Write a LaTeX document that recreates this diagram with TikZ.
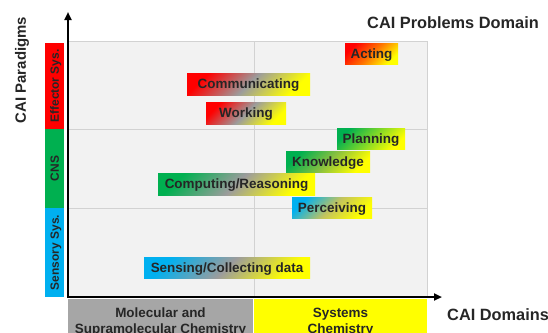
\documentclass[tikz,border=0pt]{standalone}
\usepackage{fontspec}
\setmainfont{Liberation Sans}
\usetikzlibrary{arrows.meta}
\definecolor{cred}{HTML}{FF0000}
\definecolor{cgreen}{HTML}{00B050}
\definecolor{cblue}{HTML}{00B0F0}
\definecolor{cyellow}{HTML}{FFFF00}
\definecolor{cgray}{HTML}{9C9C9C}
\definecolor{dgray}{HTML}{A6A6A6}
\definecolor{plotbg}{HTML}{F2F2F2}
\definecolor{gridc}{HTML}{D2D2D2}
\definecolor{txt}{HTML}{262626}
\tikzset{
  tag/.style 2 args={shade, top color=#1, bottom color=cyellow, middle color=#2,
    shading angle=45, minimum height=21bp, inner sep=0pt,
    text height=9.7bp, text depth=0bp,
    font=\fontsize{13.5}{16}\selectfont\bfseries, text=txt},
  sidebar/.style={fill=#1, rotate=90, minimum height=19bp, inner sep=0pt,
    text height=8.6bp, text depth=0bp,
    font=\fontsize{12}{14}\selectfont\bfseries, text=txt},
  title/.style={inner sep=0pt, font=\fontsize{16.4}{19}\selectfont\bfseries, text=txt},
  domtext/.style={inner sep=0pt, align=center, font=\fontsize{13.5}{16}\selectfont\bfseries, text=txt},
  axisline/.style={line width=2bp, -{Triangle[length=8bp,width=7bp]}},
}
\begin{document}
\begin{tikzpicture}[x=1bp,y=-1bp]
\clip (0,0) rectangle (548,332);
\fill[white] (0,0) rectangle (548,332);
% plot area
\fill[plotbg] (68,41) rectangle (427,297);
\draw[gridc, line width=0.8bp] (68,41) rectangle (427,297);
\draw[gridc, line width=0.8bp] (68,129) -- (427,129);
\draw[gridc, line width=0.8bp] (68,208) -- (427,208);
\draw[gridc, line width=0.8bp] (254,41) -- (254,297);
% side bars
\node[sidebar=cred, minimum width=86bp] (eff) at (54.5,86) {Effector Sys.};
\node[sidebar=cgreen, minimum width=79bp] (cns) at (54.5,168.5) {CNS};
\node[sidebar=cblue, minimum width=89bp] (sen) at (54.5,252.5) {Sensory Sys.};
% bottom domains
\fill[dgray] (68,299) rectangle (253,345);
\fill[cyellow] (254,299) rectangle (427,345);
\node[domtext, anchor=base] (mol) at (160.5,333) {Molecular and\\Supramolecular Chemistry};
\node[domtext, anchor=base] (sys) at (340.5,333) {Systems\\Chemistry};
% titles
\node[title, rotate=90, font=\fontsize{15}{18}\selectfont\bfseries] (ylab) at (22,70) {CAI Paradigms};
\node[title, anchor=west] (ptitle) at (367,23) {CAI Problems Domain};
\node[title, anchor=west] (xlab) at (447,315) {CAI Domains};
% axes
\coordinate (O) at (68,297);
\coordinate (ytip) at (68,12);
\coordinate (xtip) at (442,297);
\draw[axisline] (O) -- (ytip);
\draw[axisline] ([xshift=-1bp]O) -- (xtip);
% boxes
\node[tag={cred}{orange!90!red}, minimum width=53bp] (acting) at (371.5,53.5) {Acting};
\node[tag={cred}{cgray}, minimum width=123bp, minimum height=22bp] (comm) at (248.5,84) {Communicating};
\node[tag={cred}{cgray}, minimum width=80bp, minimum height=22bp] (work) at (246,113) {Working};
\node[tag={cgreen}{cgreen!50!cyellow}, minimum width=68bp] (plan) at (371,138.5) {Planning};
\node[tag={cgreen}{cgreen!45!cyellow!70!gray}, minimum width=84bp] (know) at (328,161.5) {Knowledge};
\node[tag={cgreen}{cgray}, minimum width=157bp, minimum height=22bp] (comp) at (236.5,184) {Computing/Reasoning};
\node[tag={cblue}{cgray!60!cyellow}, minimum width=80bp] (perc) at (332,207.5) {Perceiving};
\node[tag={cblue}{cgray}, minimum width=166bp] (sens) at (227,267.5) {Sensing/Collecting data};
\end{tikzpicture}
\end{document}
